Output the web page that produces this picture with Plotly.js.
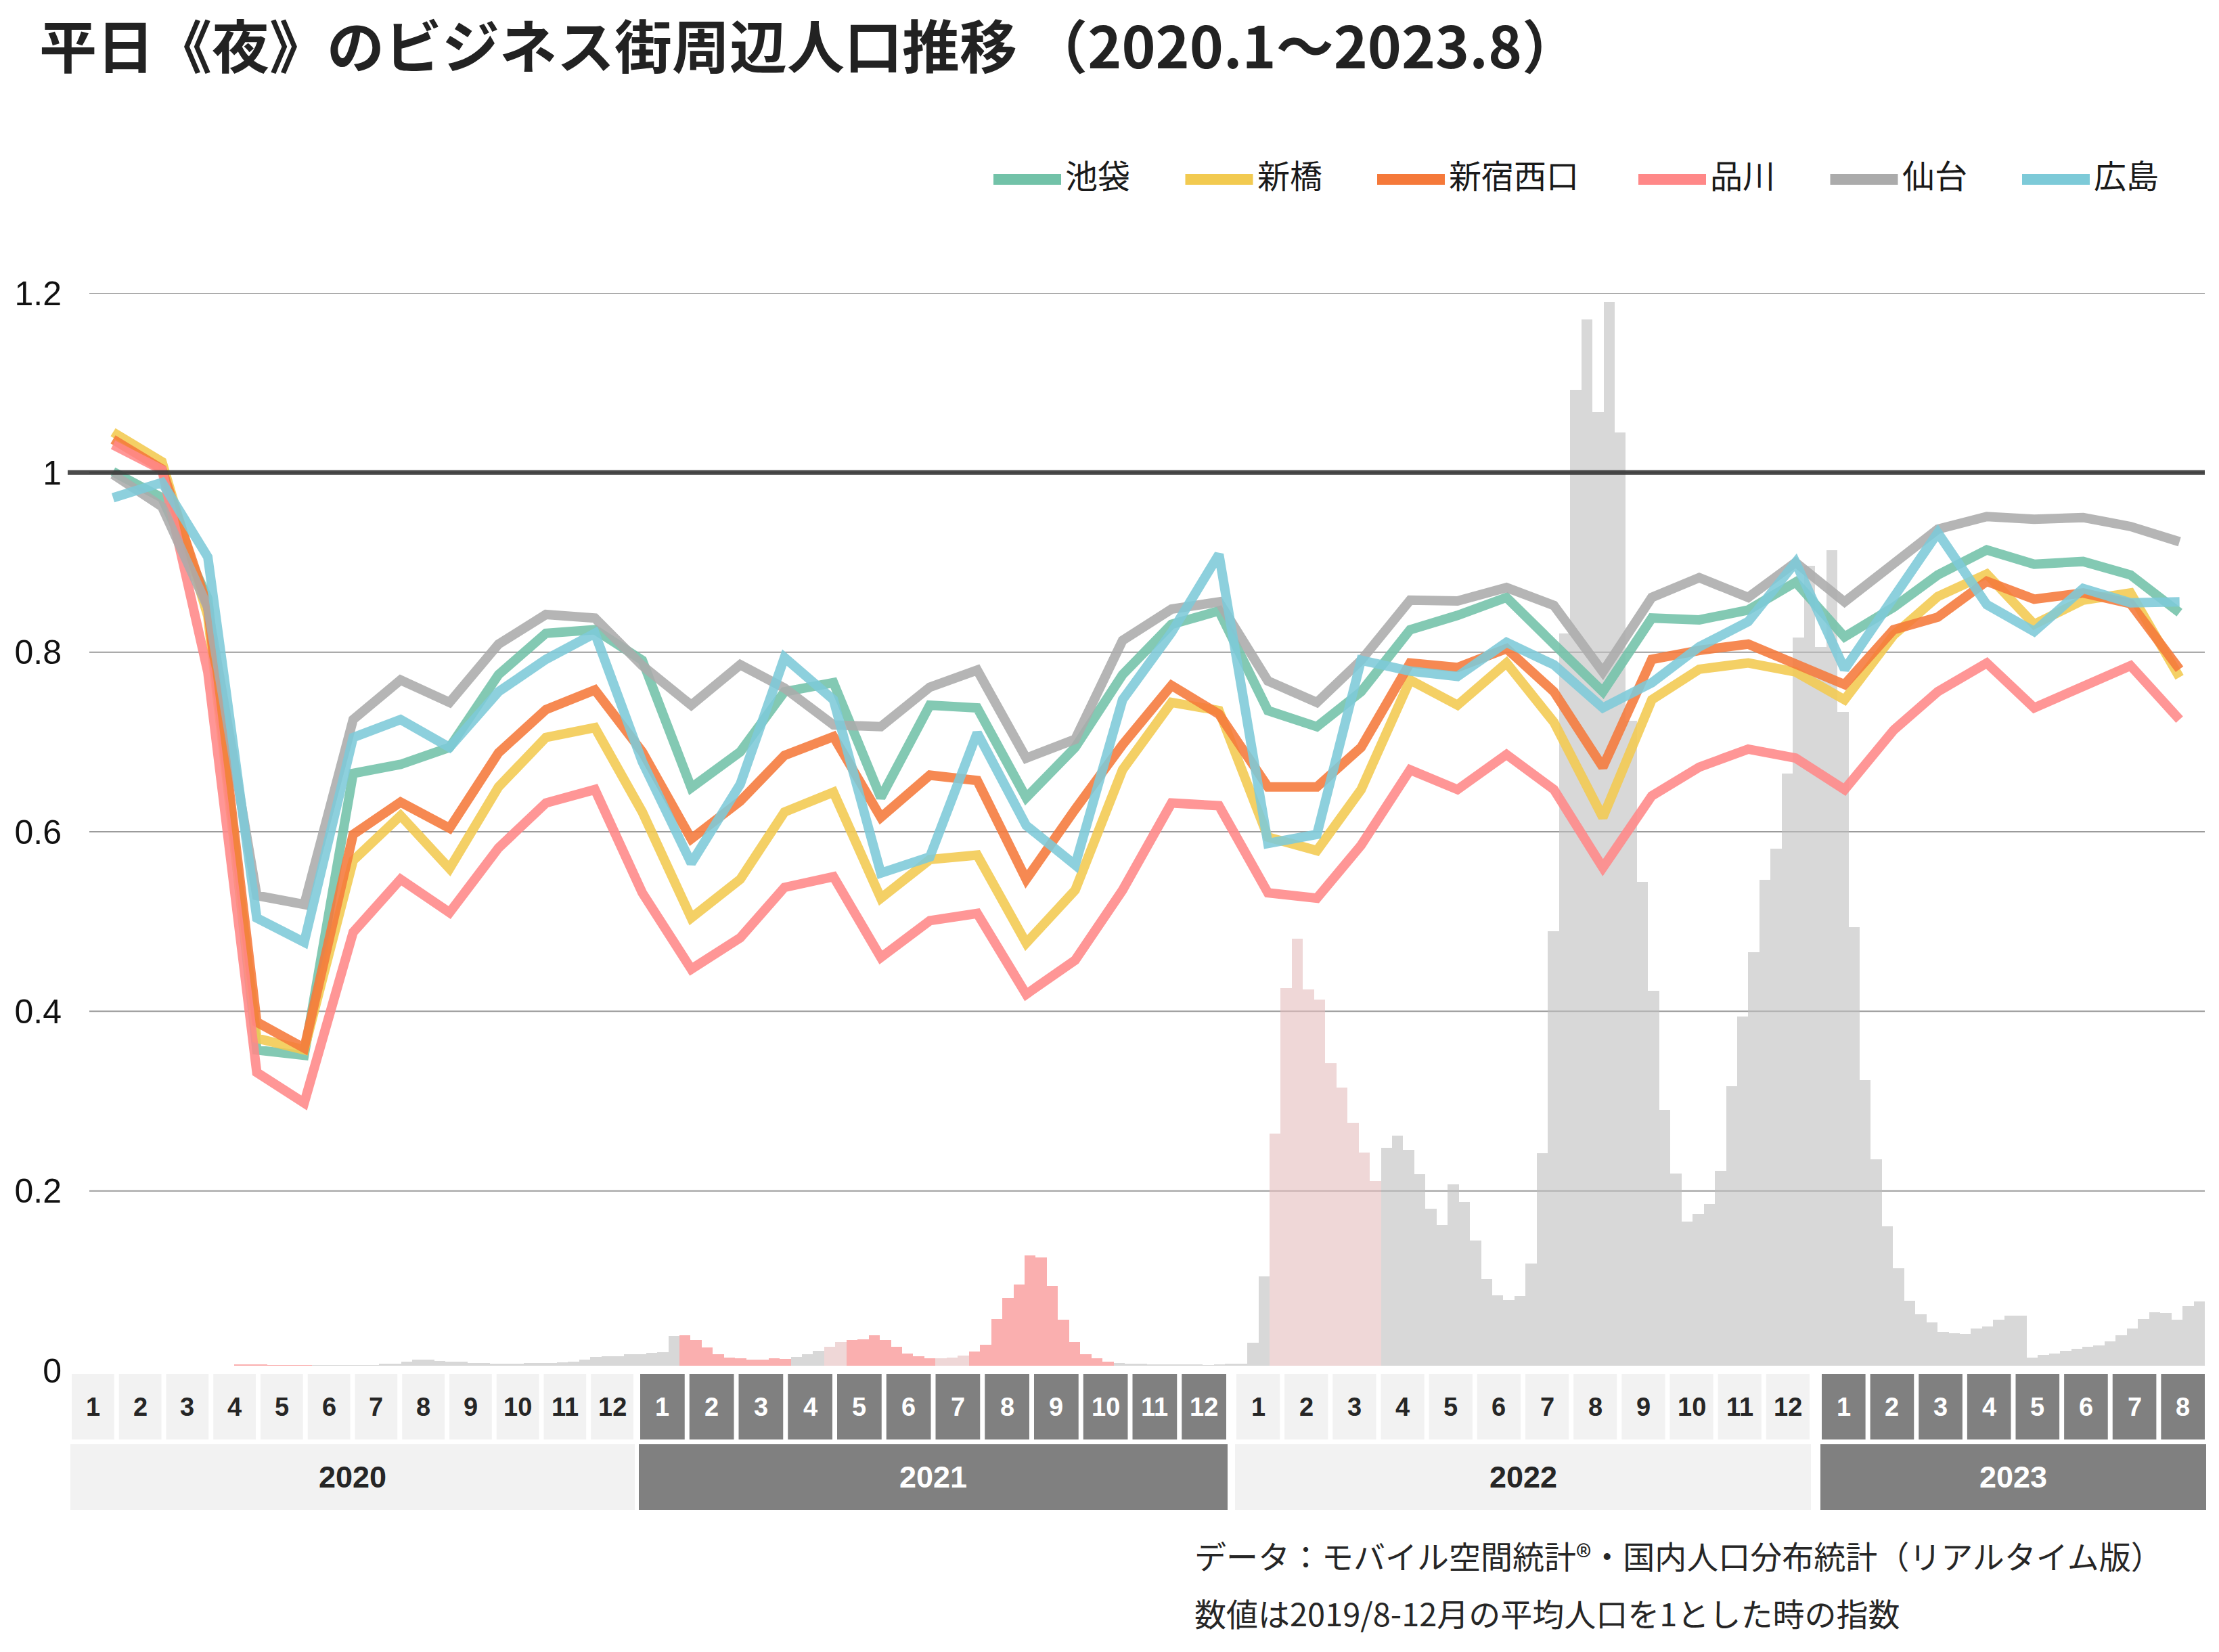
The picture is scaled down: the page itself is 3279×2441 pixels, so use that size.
<!DOCTYPE html>
<html>
<head>
<meta charset="utf-8">
<script src="https://cdn.plot.ly/plotly-3.0.1.min.js"></script>
<style>html,body{margin:0;padding:0;background:#fff}</style>
</head>
<body>
<div id="chart" style="width:3279px;height:2441px"></div>
<script>
// ---------------- DATA ----------------
const months = [
  '2020-01','2020-02','2020-03','2020-04','2020-05','2020-06','2020-07','2020-08','2020-09','2020-10','2020-11','2020-12',
  '2021-01','2021-02','2021-03','2021-04','2021-05','2021-06','2021-07','2021-08','2021-09','2021-10','2021-11','2021-12',
  '2022-01','2022-02','2022-03','2022-04','2022-05','2022-06','2022-07','2022-08','2022-09','2022-10','2022-11','2022-12',
  '2023-01','2023-02','2023-03','2023-04','2023-05','2023-06','2023-07','2023-08'
];
const seriesNames = ['池袋','新橋','新宿西口','品川','仙台','広島'];
const ikebukuro = [1.001,0.972,0.860,0.357,0.351,0.665,0.675,0.694,0.775,0.821,0.825,0.791,
  0.649,0.689,0.756,0.766,0.638,0.741,0.738,0.638,0.694,0.775,0.831,0.846,
  0.735,0.717,0.756,0.825,0.841,0.861,0.809,0.756,0.838,0.836,0.847,0.878,
  0.817,0.850,0.886,0.914,0.898,0.901,0.886,0.844];
const shinbashi = [1.045,1.012,0.840,0.370,0.357,0.568,0.618,0.559,0.650,0.705,0.716,0.622,
  0.504,0.547,0.622,0.644,0.526,0.569,0.574,0.476,0.535,0.669,0.744,0.735,
  0.594,0.579,0.647,0.769,0.741,0.788,0.722,0.616,0.747,0.781,0.788,0.778,
  0.747,0.819,0.862,0.887,0.831,0.858,0.866,0.772];
const shinjukuNishiguchi = [1.037,1.004,0.850,0.388,0.359,0.597,0.633,0.604,0.688,0.736,0.758,0.689,
  0.592,0.634,0.685,0.706,0.616,0.663,0.657,0.547,0.625,0.697,0.763,0.731,
  0.650,0.650,0.694,0.788,0.783,0.804,0.756,0.672,0.792,0.802,0.809,0.788,
  0.764,0.825,0.839,0.879,0.859,0.866,0.854,0.781];
const shinagawa = [1.031,1.003,0.778,0.332,0.298,0.488,0.547,0.510,0.582,0.632,0.647,0.532,
  0.447,0.482,0.538,0.550,0.460,0.501,0.509,0.419,0.457,0.535,0.632,0.629,
  0.532,0.526,0.585,0.669,0.647,0.686,0.647,0.560,0.640,0.672,0.692,0.682,
  0.647,0.713,0.756,0.788,0.738,0.763,0.785,0.725];
const sendai = [0.998,0.962,0.850,0.529,0.519,0.725,0.769,0.744,0.809,0.842,0.838,0.785,
  0.741,0.786,0.760,0.719,0.717,0.761,0.780,0.682,0.703,0.813,0.848,0.856,
  0.768,0.744,0.791,0.858,0.857,0.872,0.852,0.778,0.861,0.883,0.861,0.900,
  0.856,0.897,0.937,0.951,0.948,0.950,0.940,0.923];
const hiroshima = [0.972,0.989,0.906,0.504,0.477,0.705,0.725,0.694,0.756,0.792,0.821,0.678,
  0.565,0.653,0.794,0.747,0.554,0.572,0.710,0.607,0.563,0.747,0.822,0.909,
  0.587,0.597,0.791,0.779,0.773,0.811,0.786,0.738,0.766,0.806,0.834,0.900,
  0.781,0.859,0.933,0.853,0.823,0.871,0.855,0.856];
const seriesColors = ['#72C2A8','#F2CA50','#F5793A','#FF8888','#ABABAB','#7DCAD8'];

// Weekly new-case index (background bars), weeks starting 2020-01-06
const firstWeek = '2020-01-06';
const weeklyCases = [
  0,0,0,0,0,0,0,0,0,0,
  0,0,0,0.0015,0.0015,0.0012,0.0008,0.0004,0.0003,0.0003,
  0.0003,0.0003,0.0003,0.0004,0.0005,0.0008,0.0017,0.0017,0.0042,0.0063,
  0.0067,0.0048,0.0045,0.0042,0.0027,0.0027,0.0023,0.0023,0.0023,0.0027,
  0.0027,0.0027,0.0038,0.0042,0.0063,0.0094,0.0100,0.0100,0.0125,0.0125,
  0.0142,0.0146,0.0330,0.0334,0.0284,0.0203,0.0126,0.0090,0.0078,0.0065,
  0.0065,0.0078,0.0073,0.0095,0.0126,0.0163,0.0208,0.0259,0.0284,0.0289,
  0.0334,0.0284,0.0208,0.0133,0.0103,0.0078,0.0083,0.0088,0.0108,0.0158,
  0.0234,0.0520,0.0749,0.0899,0.1226,0.1201,0.0887,0.0510,0.0264,0.0126,
  0.0078,0.0045,0.0025,0.0018,0.0018,0.0013,0.0013,0.0013,0.0013,0.0013,
  0.0008,0.0010,0.0018,0.0023,0.0254,0.0990,0.2585,0.4207,0.4755,0.4190,
  0.4073,0.3368,0.3094,0.2703,0.2373,0.2052,0.2428,0.2562,0.2405,0.2131,
  0.1747,0.1567,0.2021,0.1825,0.1394,0.0963,0.0783,0.0728,0.0775,0.1136,
  0.2366,0.4840,0.8150,1.0870,1.1650,1.0620,1.1850,1.0390,0.7180,0.5390,
  0.4170,0.2850,0.2139,0.1606,0.1684,0.1802,0.2170,0.3110,0.3890,0.4600,
  0.5410,0.5760,0.6590,0.8110,0.8910,0.8000,0.9080,0.7280,0.4880,0.3180,
  0.2300,0.1552,0.1085,0.0721,0.0570,0.0482,0.0377,0.0357,0.0352,0.0409,
  0.0432,0.0510,0.0558,0.0558,0.0088,0.0120,0.0131,0.0163,0.0188,0.0206,
  0.0226,0.0271,0.0337,0.0409,0.0520,0.0595,0.0585,0.0510,0.0660,0.0716
];
// weeks shown in red (state of emergency) and light pink (priority measures)
const redWeeks = [['2020-04-06','2020-05-18'],['2021-01-11','2021-03-15'],['2021-04-26','2021-06-14'],['2021-07-12','2021-10-04']];
const pinkWeeks = [['2021-04-12','2021-04-19'],['2021-06-21','2021-07-05'],['2022-01-17','2022-03-21']];

const yTicks = [0,0.2,0.4,0.6,0.8,1,1.2];
const title = '平日《夜》のビジネス街周辺人口推移 （2020.1～2023.8）';
const notes = ['データ：モバイル空間統計®・国内人口分布統計（リアルタイム版）','数値は2019/8-12月の平均人口を1とした時の指数'];

// ---------------- LAYOUT GEOMETRY ----------------
const W = 3279, H = 2441;
const M = {l:132, r:21, t:433, b:416};
const plotW = W - M.l - M.r, plotH = H - M.t - M.b;
const px2x = px => (px - M.l) / plotW;
const py2y = py => (H - M.b - py) / plotH;

const CJK = 'Noto Sans CJK JP, sans-serif';
const LAT = 'Liberation Sans, Arial, sans-serif';

// ---------------- TRACES ----------------
const weeks = weeklyCases.map((_, k) => {
  const d = new Date(Date.parse(firstWeek + 'T00:00:00Z') + k * 7 * 86400000);
  return d.toISOString().slice(0, 10);
});
const inRanges = (d, ranges) => ranges.some(r => d >= r[0] && d <= r[1]);
const barColors = weeks.map(d => inRanges(d, redWeeks) ? 'rgba(247,122,122,0.6)'
  : inRanges(d, pinkWeeks) ? 'rgba(228,188,188,0.6)' : 'rgba(190,190,190,0.6)');

const traces = [{
  type: 'bar', x: weeks, y: weeklyCases, xaxis: 'x', yaxis: 'y',
  marker: {color: barColors, line: {width: 0}}, showlegend: false, hoverinfo: 'skip'
}];

const monthDates = months.map(m => m + '-16');
const allSeries = [ikebukuro, shinbashi, shinjukuNishiguchi, shinagawa, sendai, hiroshima];
allSeries.forEach((vals, i) => {
  traces.push({
    type: 'scatter', mode: 'lines', x: monthDates, y: vals, xaxis: 'x2', yaxis: 'y2',
    name: seriesNames[i], line: {color: seriesColors[i], width: 14}, opacity: 0.88,
    showlegend: false
  });
});

// ---------------- SHAPES & ANNOTATIONS ----------------
const shapes = [];
const annotations = [];

// gridlines (skip 0)
yTicks.filter(v => v > 0).forEach(v => {
  shapes.push({type: 'line', xref: 'paper', yref: 'y2', x0: 0, x1: 1, y0: v, y1: v,
    line: {color: '#9b9b9b', width: 2}, layer: 'below'});
});
// reference line at 1
shapes.push({type: 'line', xref: 'paper', yref: 'y2', x0: px2x(100), x1: 1, y0: 1, y1: 1,
  line: {color: 'rgba(55,55,55,0.9)', width: 7}, layer: 'above'});

// month / year table under the plot
const yearSpanPx = {2020: [106, 936], 2021: [946, 1812], 2022: [1827, 2674], 2023: [2692, 3258]};
const years = [...new Set(months.map(m => m.slice(0, 4)))];
const monthRow = [2030, 2127], yearRow = [2134, 2231];
years.forEach((yr, yi) => {
  const ms = months.filter(m => m.startsWith(yr));
  const [L, R] = yearSpanPx[yr];
  const gap = 7, pitch = (R - L + gap) / ms.length;
  const dark = yi % 2 === 1;
  const fill = dark ? '#808080' : '#F2F2F2';
  const tcol = dark ? '#FFFFFF' : '#262626';
  ms.forEach((m, j) => {
    const x0 = L + j * pitch, x1 = x0 + pitch - gap;
    shapes.push({type: 'rect', xref: 'paper', yref: 'paper', x0: px2x(x0), x1: px2x(x1),
      y0: py2y(monthRow[1]), y1: py2y(monthRow[0]), fillcolor: fill, line: {width: 0}});
    annotations.push({xref: 'paper', yref: 'paper', x: px2x((x0 + x1) / 2), y: py2y((monthRow[0] + monthRow[1]) / 2),
      text: String(parseInt(m.slice(5), 10)), showarrow: false, xanchor: 'center', yanchor: 'middle',
      font: {family: LAT, size: 38, color: tcol, weight: 700}});
  });
  shapes.push({type: 'rect', xref: 'paper', yref: 'paper', x0: px2x(L - 2), x1: px2x(R + 2),
    y0: py2y(yearRow[1]), y1: py2y(yearRow[0]), fillcolor: fill, line: {width: 0}});
  annotations.push({xref: 'paper', yref: 'paper', x: px2x((L + R) / 2), y: py2y((yearRow[0] + yearRow[1]) / 2),
    text: yr, showarrow: false, xanchor: 'center', yanchor: 'middle',
    font: {family: LAT, size: 45, color: tcol, weight: 700}});
});

// custom legend
let lx = 1468;
seriesNames.forEach((name, i) => {
  shapes.push({type: 'line', xref: 'paper', yref: 'paper', x0: px2x(lx), x1: px2x(lx + 100),
    y0: py2y(265), y1: py2y(265), line: {color: seriesColors[i], width: 16}});
  annotations.push({xref: 'paper', yref: 'paper', x: px2x(lx + 104), y: py2y(257), text: name,
    showarrow: false, xanchor: 'left', yanchor: 'middle', font: {family: CJK, size: 48, color: '#1a1a1a'}});
  lx += 181 + 51.25 * name.length;
});

// notes
notes.forEach((t, i) => {
  annotations.push({xref: 'paper', yref: 'paper', x: px2x(1763), y: py2y(i === 0 ? 2297 : 2382), text: t,
    showarrow: false, xanchor: 'left', yanchor: 'middle', font: {family: CJK, size: 47, color: '#262626'}});
});

// title as a paper annotation (top-left)
annotations.push({xref: 'paper', yref: 'paper', x: px2x(56), y: py2y(64), text: title,
  showarrow: false, xanchor: 'left', yanchor: 'middle',
  font: {family: CJK, size: 85, color: '#222222', weight: 700}});

const layout = {
  width: W, height: H,
  margin: {l: M.l, r: M.r, t: M.t, b: M.b, pad: 0},
  paper_bgcolor: '#FFFFFF', plot_bgcolor: 'rgba(0,0,0,0)',
  font: {family: CJK, color: '#1a1a1a'},
  bargap: 0,
  showlegend: false,
  hovermode: false,
  xaxis: {type: 'category', range: [-0.5, weeks.length - 0.5], visible: false, showgrid: false, zeroline: false},
  yaxis: {range: [-0.0055, 1.1945], visible: false, showgrid: false, zeroline: false},
  xaxis2: {type: 'date', overlaying: 'x', anchor: 'y2', range: ['2020-01-01', '2023-09-01'],
    visible: false, showgrid: false, zeroline: false},
  yaxis2: {overlaying: 'y', anchor: 'x2', side: 'left', range: [0, 1.2], tickvals: yTicks,
    ticktext: yTicks.map(v => String(v)), showgrid: false, zeroline: false, showline: false, ticks: '',
    ticklabelstandoff: 40, tickfont: {family: LAT, size: 50, color: '#111111'}},
  shapes: shapes,
  annotations: annotations
};

Plotly.newPlot('chart', traces, layout, {displayModeBar: false, staticPlot: true});
</script>
</body>
</html>
